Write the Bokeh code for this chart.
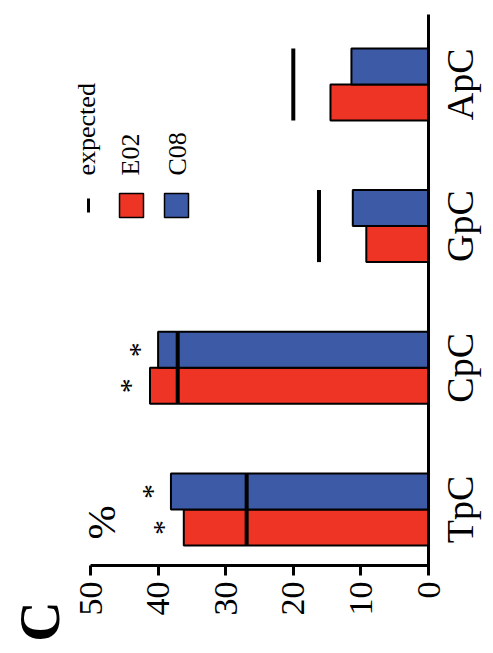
import math
import numpy as np
from bokeh.plotting import figure
from bokeh.models import Range1d, LinearAxis, FixedTicker, ColumnDataSource
from bokeh.core.properties import value
from bokeh.embed import file_html
from bokeh.resources import INLINE

# ---- data ----
categories = ["TpC", "CpC", "GpC", "ApC"]
e02 = [36.2, 41.2, 9.2, 14.5]
c08 = [38.1, 40.0, 11.2, 11.4]
expected = [26.9, 37.1, 16.2, 20.0]
sig_e02 = [True, True, False, False]
sig_c08 = [True, True, False, False]
x_ticks = [0, 10, 20, 30, 40, 50]
series_names = ["E02", "C08"]

RED = "#EE3424"
BLUE = "#3D5AA7"
SERIF = "Liberation Serif"

W, H = 485, 645

# layout helpers (canvas px -> data units)
PX_PER_X = 6.76
X0_PX = 428.0
PX_PER_Y = 141.7
Y0_PX = 509.0


def X(px):
    return (X0_PX - px) / PX_PER_X


def Y(py):
    return (Y0_PX - py) / PX_PER_Y


pos = np.arange(len(categories), dtype=float)
bw = 0.254

p = figure(frame_width=W, frame_height=H,
           x_range=Range1d(X(0), X(W)), y_range=Range1d(Y(H), Y(0)),
           output_backend="svg", toolbar_location=None,
           x_axis_location=None, y_axis_location=None,
           min_border=0, min_border_left=0, min_border_right=0,
           min_border_top=0, min_border_bottom=0)
p.outline_line_color = None
p.grid.grid_line_color = None
p.background_fill_color = "white"
p.border_fill_color = "white"

# value axis (drawn rotated: bottom of the picture)
xa = LinearAxis(ticker=FixedTicker(ticks=x_ticks), bounds=(0, 50),
                fixed_location=Y(565),
                major_label_orientation=math.pi / 2,
                axis_line_width=3, axis_line_color="black",
                major_tick_line_width=3, major_tick_out=10, major_tick_in=0,
                minor_tick_out=0, minor_tick_in=0,
                major_label_text_font=SERIF, major_label_text_font_size="34px",
                major_label_text_color="black", major_label_standoff=6)
p.add_layout(xa, "below")

src = ColumnDataSource(dict(
    cat=categories, pos=pos, y_e02=pos - bw / 2, y_c08=pos + bw / 2,
    e02=e02, c08=c08, expected=expected, lo=pos - bw, hi=pos + bw,
    zero=[0.0] * len(categories)))

p.hbar(y="y_e02", left=0, right="e02", height=bw, fill_color=RED,
       line_color="black", line_width=2, source=src)
p.hbar(y="y_c08", left=0, right="c08", height=bw, fill_color=BLUE,
       line_color="black", line_width=2, source=src)
p.segment(x0="expected", y0="lo", x1="expected", y1="hi", line_width=4,
          line_color="black", source=src)

# category axis: rule at x = 0 and rotated category labels
p.quad(left=[X(429.5)], right=[X(426.5)], bottom=[Y(566)], top=[Y(14)],
       fill_color="black", line_color=None, level="overlay")
p.text(x="zero", y="pos", text="cat", source=src, angle=math.pi / 2,
       x_offset=31, text_font=value(SERIF), text_font_size="38px",
       text_color="black", text_align="center", text_baseline="middle")

# significance stars
sx, sy = [], []
for i in range(len(categories)):
    if sig_e02[i]:
        sx.append(e02[i] + 3.1)
        sy.append(pos[i] - bw / 2)
    if sig_c08[i]:
        sx.append(c08[i] + 2.9)
        sy.append(pos[i] + bw / 2)
p.text(x=sx, y=sy, text=["*"] * len(sx), angle=math.pi / 2,
       text_font=value(SERIF), text_font_size="30px", text_color="black",
       text_align="center", text_baseline="middle")

# % label
p.text(x=[X(100)], y=[Y(522)], text=["%"], angle=math.pi / 2,
       text_font=value(SERIF), text_font_size="41px", text_color="black",
       text_align="center", text_baseline="middle")

# legend
p.text(x=[X(85.5), X(130), X(176.5)], y=[Y(175)] * 3,
       text=["expected"] + series_names, angle=math.pi / 2,
       text_font=value(SERIF), text_font_size="26px", text_color="black",
       text_align="left", text_baseline="middle")
p.quad(left=[X(89.5)], right=[X(86.5)], bottom=[Y(212)], top=[Y(198)],
       fill_color="black", line_color=None)
p.rect(x=[X(131), X(176)], y=[Y(205)] * 2, width=24, height=24,
       width_units="screen", height_units="screen",
       fill_color=[RED, BLUE], line_color="black", line_width=1.5)

# panel letter
p.text(x=[X(39)], y=[Y(621)], text=["C"], angle=math.pi / 2,
       text_font=value(SERIF), text_font_style="bold",
       text_font_size="56px", text_color="black",
       text_align="center", text_baseline="middle")

open("out.html", "w").write(file_html(p, INLINE))
